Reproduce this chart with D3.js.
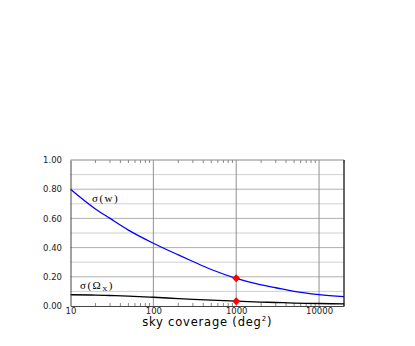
<!DOCTYPE html>
<html>
<head>
<meta charset="utf-8">
<script src="https://cdn.jsdelivr.net/npm/d3@7"></script>
<style>
  body { margin: 0; background: #fff; }
  .tick text { font-family: "DejaVu Sans", Arial, sans-serif; font-size: 8.5px; fill: #222; }
</style>
</head>
<body>
<div id="wrapper"></div>
<script>
// sky coverage (deg^2)
const coverage = [10, 20, 30, 50, 100, 200, 300, 500, 1000, 2000, 3000, 5000, 10000, 20000];
const sigmaW = [0.80, 0.665, 0.60, 0.52, 0.43, 0.35, 0.305, 0.25, 0.19, 0.145, 0.125, 0.10, 0.078, 0.064];
const sigmaOmega = [0.077, 0.075, 0.072, 0.068, 0.060, 0.051, 0.046, 0.040, 0.033, 0.027, 0.024, 0.020, 0.017, 0.014];
const markerX = [1000, 1000];
const markerY = [0.19, 0.033];
const xTicks = [10, 100, 1000, 10000];
const yTicks = [0, 0.2, 0.4, 0.6, 0.8, 1.0];

function drawChart() {
  let dimensions = {
    width: 415,
    height: 346,
    margin: { top: 160, right: 71, bottom: 40, left: 70.5 },
  };
  dimensions.boundedWidth = dimensions.width - dimensions.margin.left - dimensions.margin.right;
  dimensions.boundedHeight = dimensions.height - dimensions.margin.top - dimensions.margin.bottom;

  const wrapper = d3.select('#wrapper')
    .append('svg')
    .attr('width', dimensions.width)
    .attr('height', dimensions.height);

  const bounds = wrapper.append('g')
    .attr('transform', `translate(${dimensions.margin.left},${dimensions.margin.top})`);

  const xScale = d3.scaleLog()
    .domain([10, 20000])
    .range([0, dimensions.boundedWidth]);

  const yScale = d3.scaleLinear()
    .domain([0, 1])
    .range([dimensions.boundedHeight, 0]);

  // grid
  const minorY = d3.range(1, 10).map(d => d / 10);
  bounds.selectAll('.hgrid')
    .data(minorY)
    .enter().append('line')
    .attr('x1', 0).attr('x2', dimensions.boundedWidth)
    .attr('y1', d => yScale(d)).attr('y2', d => yScale(d))
    .attr('stroke', (d, i) => (i % 2 === 1) ? '#b0b0b0' : '#d0d0d0')
    .attr('stroke-width', 1);

  bounds.selectAll('.vgrid')
    .data(xTicks.slice(1))
    .enter().append('line')
    .attr('x1', d => xScale(d)).attr('x2', d => xScale(d))
    .attr('y1', 0).attr('y2', dimensions.boundedHeight)
    .attr('stroke', '#909090')
    .attr('stroke-width', 1);

  // minor ticks top and bottom
  const minorX = [];
  [10, 100, 1000, 10000].forEach(dec => {
    for (let k = 2; k < 10; k++) if (dec * k <= 20000) minorX.push(dec * k);
  });
  bounds.selectAll('.mtop')
    .data(minorX)
    .enter().append('line')
    .attr('x1', d => xScale(d)).attr('x2', d => xScale(d))
    .attr('y1', 0).attr('y2', 3)
    .attr('stroke', '#888');
  bounds.selectAll('.mbot')
    .data(minorX)
    .enter().append('line')
    .attr('x1', d => xScale(d)).attr('x2', d => xScale(d))
    .attr('y1', dimensions.boundedHeight).attr('y2', dimensions.boundedHeight - 3)
    .attr('stroke', '#888');

  // frame
  bounds.append('line')
    .attr('x1', 0).attr('x2', dimensions.boundedWidth)
    .attr('y1', 0).attr('y2', 0)
    .attr('stroke', '#888');
  bounds.append('line')
    .attr('x1', dimensions.boundedWidth).attr('x2', dimensions.boundedWidth)
    .attr('y1', 0).attr('y2', dimensions.boundedHeight)
    .attr('stroke', '#333').attr('stroke-width', 1.5);

  // lines
  const lineW = d3.line()
    .x((d, i) => xScale(coverage[i]))
    .y(d => yScale(d))
    .curve(d3.curveMonotoneX);

  bounds.append('path')
    .datum(sigmaOmega)
    .attr('d', lineW)
    .attr('fill', 'none')
    .attr('stroke', '#000')
    .attr('stroke-width', 1.3);

  bounds.append('path')
    .datum(sigmaW)
    .attr('d', lineW)
    .attr('fill', 'none')
    .attr('stroke', '#0000ff')
    .attr('stroke-width', 1.3);

  // markers
  bounds.selectAll('.marker')
    .data(markerX)
    .enter().append('path')
    .attr('d', d3.symbol().type(d3.symbolDiamond2).size(40))
    .attr('transform', (d, i) => `translate(${xScale(d)},${yScale(markerY[i])})`)
    .attr('fill', '#ff0000');

  // axes
  const xAxis = bounds.append('g')
    .attr('transform', `translate(0,${dimensions.boundedHeight})`)
    .call(d3.axisBottom(xScale).tickValues(xTicks).tickFormat(d3.format('d')).tickSize(0).tickPadding(2));
  xAxis.select('.domain').attr('stroke', '#444');

  const yAxis = bounds.append('g')
    .call(d3.axisLeft(yScale).tickValues(yTicks).tickFormat(d3.format('.2f')).tickSize(0).tickPadding(8.5));
  yAxis.select('.domain').attr('stroke', '#444');

  // axis title
  const title = wrapper.append('text')
    .attr('x', dimensions.margin.left + dimensions.boundedWidth / 2)
    .attr('y', 326)
    .attr('text-anchor', 'middle')
    .style('font-family', '"DejaVu Sans", Arial, sans-serif')
    .style('font-size', '11.5px')
    .style('letter-spacing', '0.8px')
    .text('sky coverage (deg');
  title.append('tspan').attr('dy', -5).style('font-size', '7px').text('2');
  title.append('tspan').attr('dy', 5).text(')');

  // curve labels
  const labW = bounds.append('text')
    .attr('x', 21.5)
    .attr('y', 42)
    .style('font-family', '"Liberation Serif", "Times New Roman", serif')
    .style('font-size', '11px')
    .style('letter-spacing', '1.5px')
    .text('σ(w)');

  const labO = bounds.append('text')
    .attr('x', 9.5)
    .attr('y', 129)
    .style('font-family', '"Liberation Serif", "Times New Roman", serif')
    .style('font-size', '11px')
    .style('letter-spacing', '1.5px')
    .text('σ(Ω');
  labO.append('tspan').attr('dy', 2).style('font-size', '7px').text('X');
  labO.append('tspan').attr('dy', -2).text(')');
}

drawChart();
</script>
</body>
</html>
